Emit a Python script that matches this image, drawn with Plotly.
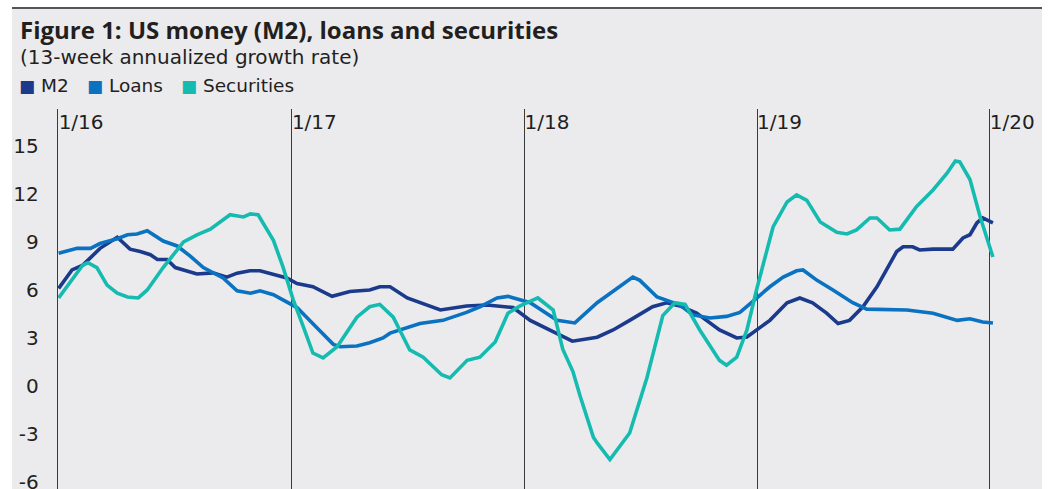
import plotly.graph_objects as go

# ---- data ----
m2_dates = ["2016-01-01","2016-01-22","2016-02-08","2016-03-06","2016-04-02","2016-04-22","2016-05-08","2016-05-24",
            "2016-06-04","2016-06-19","2016-07-02","2016-08-05","2016-08-30","2016-09-21","2016-10-07","2016-10-27",
            "2016-11-12","2016-12-09","2016-12-24","2017-01-09","2017-02-03","2017-03-05","2017-04-02","2017-05-03",
            "2017-05-19","2017-06-04","2017-07-01","2017-08-22","2017-10-02","2017-11-03","2017-12-14","2018-01-10",
            "2018-02-21","2018-03-17","2018-04-25","2018-05-20","2018-06-15","2018-07-21","2018-08-12","2018-09-02",
            "2018-09-28","2018-11-03","2018-11-30","2018-12-16","2019-01-21","2019-02-17","2019-03-09","2019-03-29",
            "2019-04-20","2019-05-08","2019-05-26","2019-06-16","2019-07-08","2019-08-08","2019-08-18","2019-09-02",
            "2019-09-13","2019-10-04","2019-11-04","2019-11-20","2019-12-01","2019-12-12","2019-12-21","2020-01-06"]
m2_values = [6.1, 7.25, 7.55, 8.6, 9.3, 8.55, 8.4, 8.2,
             7.9, 7.9, 7.4, 7.0, 7.07, 6.8, 7.05, 7.2,
             7.2, 6.9, 6.75, 6.4, 6.2, 5.6, 5.9, 6.0,
             6.2, 6.2, 5.5, 4.75, 5.0, 5.06, 4.9, 4.1,
             3.3, 2.8, 3.05, 3.5, 4.1, 4.95, 5.2, 5.0,
             4.55, 3.5, 3.0, 3.06, 4.1, 5.2, 5.5, 5.2,
             4.55, 3.9, 4.1, 4.95, 6.2, 8.4, 8.7, 8.7,
             8.5, 8.55, 8.55, 9.25, 9.45, 10.2, 10.5, 10.2]

loans_dates = ["2016-01-01","2016-01-30","2016-02-20","2016-03-06","2016-04-02","2016-04-18","2016-05-03","2016-05-19",
               "2016-06-13","2016-07-05","2016-07-26","2016-08-15","2016-09-15","2016-10-07","2016-10-28","2016-11-12",
               "2016-12-03","2016-12-25","2017-01-09","2017-02-10","2017-03-07","2017-03-18","2017-04-13","2017-05-03",
               "2017-05-24","2017-06-04","2017-07-21","2017-08-26","2017-10-02","2017-10-23","2017-11-19","2017-12-06",
               "2018-01-10","2018-02-21","2018-03-21","2018-04-25","2018-05-20","2018-06-20","2018-07-01","2018-07-28",
               "2018-09-02","2018-09-22","2018-10-19","2018-11-14","2018-12-05","2018-12-31","2019-01-21","2019-02-11",
               "2019-03-04","2019-03-14","2019-04-05","2019-04-30","2019-05-31","2019-06-22","2019-07-24","2019-08-24",
               "2019-10-04","2019-11-11","2019-12-01","2019-12-21","2020-01-06"]
loans_values = [8.3, 8.6, 8.6, 8.9, 9.2, 9.45, 9.5, 9.7,
                9.06, 8.75, 8.1, 7.4, 6.75, 5.95, 5.8, 5.95,
                5.7, 5.25, 4.9, 3.6, 2.6, 2.45, 2.5, 2.7,
                3.0, 3.3, 3.9, 4.1, 4.6, 4.95, 5.5, 5.6,
                5.2, 4.1, 3.94, 5.2, 5.9, 6.8, 6.6, 5.56,
                5.06, 4.44, 4.25, 4.35, 4.6, 5.5, 6.2, 6.8,
                7.2, 7.25, 6.6, 6.0, 5.2, 4.8, 4.75, 4.75,
                4.55, 4.1, 4.2, 4.0, 3.94]

sec_dates = ["2016-01-01","2016-01-22","2016-02-08","2016-02-16","2016-03-01","2016-03-17","2016-04-02","2016-04-18",
             "2016-05-05","2016-05-19","2016-06-13","2016-07-15","2016-08-05","2016-08-26","2016-09-26","2016-10-17",
             "2016-10-28","2016-11-09","2016-12-03","2016-12-18","2017-01-03","2017-01-19","2017-02-03","2017-02-19",
             "2017-03-13","2017-03-29","2017-04-13","2017-05-03","2017-05-19","2017-06-09","2017-07-05","2017-07-26",
             "2017-08-24","2017-09-06","2017-10-03","2017-10-23","2017-11-16","2017-12-06","2017-12-25","2018-01-22",
             "2018-02-15","2018-03-02","2018-03-18","2018-03-29","2018-04-19","2018-04-25","2018-05-15","2018-06-15",
             "2018-07-12","2018-08-06","2018-08-25","2018-09-10","2018-10-03","2018-11-03","2018-11-14","2018-11-30",
             "2018-12-16","2018-12-31","2019-01-26","2019-02-17","2019-03-04","2019-03-20","2019-04-10","2019-05-06",
             "2019-05-22","2019-06-06","2019-06-27","2019-07-08","2019-07-28","2019-08-13","2019-09-08","2019-10-04",
             "2019-10-26","2019-11-08","2019-11-15","2019-12-01","2019-12-17","2020-01-06"]
sec_values = [5.5, 6.6, 7.56, 7.7, 7.4, 6.3, 5.8, 5.56,
              5.5, 6.0, 7.4, 9.0, 9.44, 9.8, 10.7, 10.56,
              10.75, 10.7, 9.1, 7.44, 5.4, 3.7, 2.06, 1.75,
              2.45, 3.4, 4.3, 4.95, 5.1, 4.3, 2.25, 1.8,
              0.7, 0.5, 1.6, 1.8, 2.75, 4.55, 5.0, 5.5,
              4.75, 2.3, 0.9, -0.6, -3.2, -3.56, -4.6, -2.94,
              0.5, 4.4, 5.2, 5.1, 3.5, 1.6, 1.3, 1.8,
              3.5, 6.0, 9.94, 11.5, 11.94, 11.6, 10.25, 9.6,
              9.5, 9.75, 10.5, 10.5, 9.75, 9.8, 11.2, 12.25,
              13.3, 14.06, 14.0, 12.9, 10.56, 8.06]

year_ticks = ["2016-01-01", "2017-01-01", "2018-01-01", "2019-01-01", "2020-01-01"]
year_labels = ["1/16", "1/17", "1/18", "1/19", "1/20"]
y_ticks = [-6, -3, 0, 3, 6, 9, 12, 15]
y_labels = ["-6", "-3", "0", "3", "6", "9", "12", "15"]

series_names = ["M2", "Loans", "Securities"]
series_colors = ["#1b3a8c", "#0a72c0", "#16bbb0"]

TEXT = "#231f20"
BG = "#ebebee"
FONT = "DejaVu Sans"
TITLE_FONT = "Open Sans"

fig = go.Figure()
for name, xs, ys, col in zip(series_names,
                             [m2_dates, loans_dates, sec_dates],
                             [m2_values, loans_values, sec_values],
                             series_colors):
    fig.add_trace(go.Scatter(x=xs, y=ys, mode="lines", name=name,
                             line=dict(color=col, width=3.6), showlegend=False))

W, H = 1052, 489
L, R, T, B = 58, 10, 109, 0
pw, ph = W - L - R, H - T - B

def px_x(x):
    return (x - L) / pw

def px_y(y):
    return (H - B - y) / ph

shapes = [
    dict(type="rect", xref="paper", yref="paper", x0=px_x(12), x1=1, y0=0, y1=px_y(8),
         fillcolor=BG, line=dict(width=0), layer="below"),
    dict(type="line", xref="paper", yref="paper", x0=px_x(12), x1=1, y0=px_y(8), y1=px_y(8),
         line=dict(color="#555555", width=2)),
]

annotations = [
    dict(text="<b>Figure 1: US money (M2), loans and securities</b>", xref="paper", yref="paper",
         x=px_x(18), y=px_y(30), xanchor="left", yanchor="middle", showarrow=False,
         font=dict(size=24, color=TEXT, family=TITLE_FONT)),
    dict(text="(13-week annualized growth rate)", xref="paper", yref="paper",
         x=px_x(18), y=px_y(57), xanchor="left", yanchor="middle", showarrow=False,
         font=dict(size=20, color=TEXT, family=FONT)),
]
legend_x = [17, 85, 179]
for name, col, lx in zip(series_names, series_colors, legend_x):
    annotations.append(dict(
        text=f'<span style="color:{col};font-size:17px">■</span> {name}', xref="paper", yref="paper",
        x=px_x(lx), y=px_y(86), xanchor="left", yanchor="middle", showarrow=False,
        font=dict(size=18.5, color=TEXT, family=FONT)))

fig.update_layout(
    width=W, height=H,
    margin=dict(l=L, r=R, t=T, b=B, autoexpand=False),
    paper_bgcolor="white", plot_bgcolor=BG,
    font=dict(family=FONT, color=TEXT, size=19),
    shapes=shapes, annotations=annotations,
    xaxis=dict(type="date", range=["2015-12-31", "2020-03-23"],
               tickvals=year_ticks, ticktext=year_labels,
               side="top", ticklabelposition="inside right", ticks="",
               showgrid=True, gridcolor="#3a3a3a", gridwidth=1.4,
               showline=False, zeroline=False,
               tickfont=dict(size=20, color=TEXT, family=FONT)),
    yaxis=dict(range=[-6.44, 17.31], tickvals=y_ticks, ticktext=y_labels, ticks="",
               showgrid=False, zeroline=False, showline=True,
               linecolor="#3a3a3a", linewidth=1.4, ticklabelstandoff=14,
               ticklabeloverflow="allow",
               tickfont=dict(size=20, color=TEXT, family=FONT)),
)

fig.write_html("out.html")
